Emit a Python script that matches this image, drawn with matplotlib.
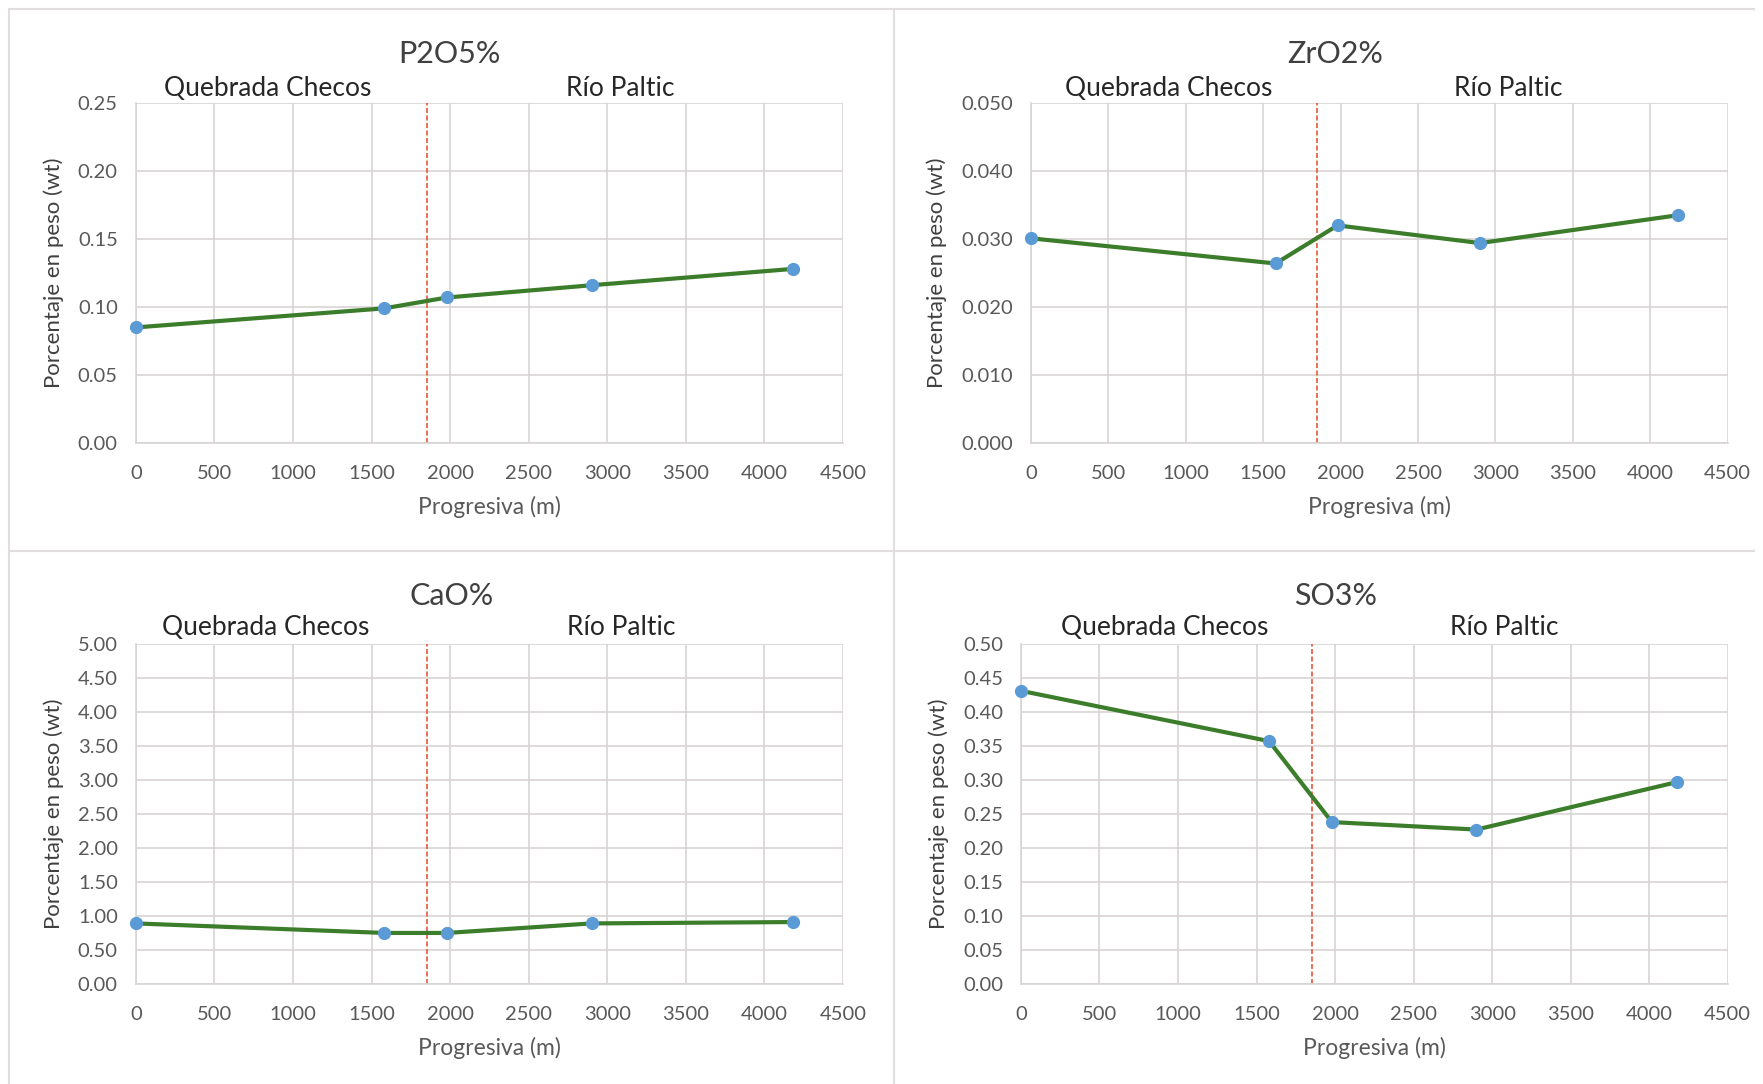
import matplotlib
matplotlib.use("Agg")
import matplotlib.pyplot as plt
from matplotlib.lines import Line2D

# distance along the stream (m)
progresiva = [0, 1580, 1980, 2900, 4180]
boundary_x = 1850

p2o5 = [0.085, 0.099, 0.107, 0.116, 0.128]
zro2 = [0.0301, 0.0264, 0.0320, 0.0294, 0.0335]
cao = [0.89, 0.75, 0.75, 0.89, 0.91]
so3 = [0.431, 0.357, 0.238, 0.227, 0.297]

titles = ["P2O5%", "ZrO2%", "CaO%", "SO3%"]
series = [p2o5, zro2, cao, so3]
ylims = [(0, 0.25), (0, 0.05), (0, 5.0), (0, 0.50)]
ysteps = [0.05, 0.01, 0.5, 0.05]
yfmts = ["{:.2f}", "{:.3f}", "{:.2f}", "{:.2f}"]
xticks = [0, 500, 1000, 1500, 2000, 2500, 3000, 3500, 4000, 4500]

# left, bottom, width, height in figure fractions
positions = [
    (0.0771, 0.5913, 0.4010, 0.3137),
    (0.5848, 0.5913, 0.3952, 0.3137),
    (0.0771, 0.0923, 0.4010, 0.3137),
    (0.5791, 0.0923, 0.4009, 0.3137),
]
# text anchors in axes fractions: (title x, title y, left label x, right label x, labels y)
text_pos = [
    (0.444, 1.145, 0.186, 0.685, 1.043),
    (0.437, 1.145, 0.198, 0.685, 1.043),
    (0.446, 1.142, 0.183, 0.687, 1.048),
    (0.445, 1.142, 0.204, 0.684, 1.048),
]

plt.rcParams["font.family"] = ["Lato", "DejaVu Sans"]
TEXT = "#404040"
TICK = "#595959"
GRID = "#d9d4d4"

fig = plt.figure(figsize=(17.63, 10.84), dpi=100)
fig.patch.set_facecolor("white")

# panel frames
frame_kw = dict(color="#e2dede", linewidth=1.5, transform=fig.transFigure)
fig.add_artist(Line2D([0.005, 0.995], [0.992, 0.992], **frame_kw))
fig.add_artist(Line2D([0.005, 0.005], [0.0, 0.992], **frame_kw))
fig.add_artist(Line2D([0.507, 0.507], [0.0, 0.992], **frame_kw))
fig.add_artist(Line2D([0.005, 0.995], [0.492, 0.492], **frame_kw))

for pos, tp, title, values, ylim, ystep, yfmt in zip(positions, text_pos, titles, series,
                                                     ylims, ysteps, yfmts):
    ax = fig.add_axes(pos)
    ax.set_xlim(0, 4500)
    ax.set_ylim(*ylim)
    n = int(round((ylim[1] - ylim[0]) / ystep))
    yt = [ylim[0] + i * ystep for i in range(n + 1)]
    ax.set_yticks(yt)
    ax.set_yticklabels([yfmt.format(v) for v in yt])
    ax.set_xticks(xticks)
    ax.grid(True, color=GRID, linewidth=1.2)
    ax.set_axisbelow(True)
    for side in ["top", "right"]:
        ax.spines[side].set_visible(False)
    for side in ["left", "bottom"]:
        ax.spines[side].set_color(GRID)
        ax.spines[side].set_linewidth(1.2)
    ax.tick_params(length=0, labelsize=14.5, labelcolor=TICK)
    ax.tick_params(axis="x", pad=16)
    ax.tick_params(axis="y", pad=13)

    ax.axvline(boundary_x, color="#e8563c", linestyle=(0, (3, 1.5)), linewidth=1.2, zorder=2)
    ax.plot(progresiva, values, color="#3b7d2a", linewidth=3, zorder=3,
            marker="o", markersize=8.5, markerfacecolor="#5b9bd5", markeredgecolor="#5b9bd5",
            clip_on=False)

    ax.set_xlabel("Progresiva (m)", fontsize=16.5, color=TICK, labelpad=10)
    ax.set_ylabel("Porcentaje en peso (wt)", fontsize=16, color=TEXT, labelpad=10)
    ax.text(tp[0], tp[1], title, transform=ax.transAxes, ha="center", va="center",
            fontsize=22, color=TEXT)
    ax.text(tp[2], tp[4], "Quebrada Checos", transform=ax.transAxes, ha="center",
            va="center", fontsize=19, color="#262626")
    ax.text(tp[3], tp[4], "Río Paltic", transform=ax.transAxes, ha="center",
            va="center", fontsize=19, color="#262626")

fig.savefig("out.png", dpi=100)
